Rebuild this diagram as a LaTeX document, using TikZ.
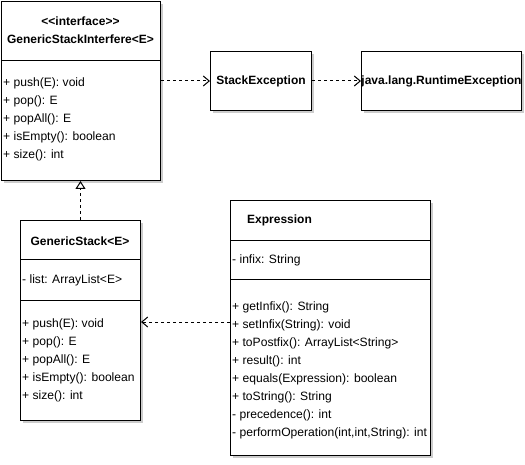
\documentclass[tikz,border=0pt]{standalone}
\usepackage{fontspec}
\setmainfont{Liberation Sans}
\usetikzlibrary{arrows.meta}
\tikzset{
  box/.style={draw=black, line width=1pt, fill=white, inner sep=0pt, anchor=north west},
  shadowbox/.style={fill=black!20, draw=none, inner sep=0pt, anchor=north west},
  txt/.style={inner sep=0pt, anchor=west, font=\fontsize{12.1}{14}\selectfont},
  ttl/.style={inner sep=0pt, font=\fontsize{12}{14}\selectfont\bfseries},
  divider/.style={line width=1pt},
  dep/.style={line width=1pt, dash pattern=on 3pt off 3pt, -{Straight Barb[length=6pt,width=10pt,line width=1pt]}},
  real/.style={line width=1pt, dash pattern=on 3pt off 3pt, -{Triangle[open,length=8pt,width=10pt,line width=1pt,fill=white]}}
}
\begin{document}
\begin{tikzpicture}[x=1pt,y=-1pt]
\useasboundingbox (0,0) rectangle (525,465);
% shadows
\node[shadowbox, minimum width=159pt, minimum height=179pt] at (4,4) {};
\node[shadowbox, minimum width=101pt, minimum height=59pt] at (213,54) {};
\node[shadowbox, minimum width=160pt, minimum height=59pt] at (364,54) {};
\node[shadowbox, minimum width=120pt, minimum height=200pt] at (23,223) {};
\node[shadowbox, minimum width=200pt, minimum height=255pt] at (233,203) {};
% interface
\node[box, minimum width=159pt, minimum height=179pt] (iface) at (1,1) {};
\draw[divider] (1,61) -- (160,61);
\node[ttl] (ifacest) at (80.5,21) {<\kern0pt<interface>\kern0pt>};
\node[ttl] (ifacename) at (80.5,39) {GenericStackInterfere<E>};
\node[txt] (i1) at (3,83) {+ push(E): void};
\node[txt] (i2) at (3,101) {+ pop(): E};
\node[txt] (i3) at (3,119) {+ popAll(): E};
\node[txt] (i4) at (3,137) {+ isEmpty(): boolean};
\node[txt] (i5) at (3,155) {+ size(): int};
% StackException
\node[box, minimum width=101pt, minimum height=59pt] (stackex) at (210,51) {};
\node[ttl] (stackexname) at (stackex.center) {StackException};
% RuntimeException
\node[box, minimum width=160pt, minimum height=59pt] (rte) at (361,51) {};
\node[ttl] (rtename) at (rte.center) {java.lang.RuntimeException};
% GenericStack
\node[box, minimum width=120pt, minimum height=200pt] (gs) at (20,220) {};
\draw[divider] (20,260) -- (140,260);
\draw[divider] (20,300) -- (140,300);
\node[ttl] (gsname) at (80,241) {GenericStack<E>};
\node[txt] (g0) at (22,280) {- list: ArrayList<E>};
\node[txt] (g1) at (22,324) {+ push(E): void};
\node[txt] (g2) at (22,342) {+ pop(): E};
\node[txt] (g3) at (22,360) {+ popAll(): E};
\node[txt] (g4) at (22,378) {+ isEmpty(): boolean};
\node[txt] (g5) at (22,396) {+ size(): int};
% Expression
\node[box, minimum width=200pt, minimum height=255pt] (expr) at (230,200) {};
\draw[divider] (230,241) -- (430,241);
\draw[divider] (230,280) -- (430,280);
\node[ttl, anchor=west] (exprname) at (247,220) {Expression};
\node[txt] (e0) at (232,260) {- infix: String};
\node[txt] (e1) at (232,307) {+ getInfix(): String};
\node[txt] (e2) at (232,325) {+ setInfix(String): void};
\node[txt] (e3) at (232,343) {+ toPostfix(): ArrayList<String>};
\node[txt] (e4) at (232,361) {+ result(): int};
\node[txt] (e5) at (232,379) {+ equals(Expression): boolean};
\node[txt] (e6) at (232,397) {+ toString(): String};
\node[txt] (e7) at (232,415) {- precedence(): int};
\node[txt] (e8) at (232,433) {- performOperation(int,int,String): int};
% connectors
\coordinate (exprdep) at (230,322);
\draw[dep] (stackex.west -| iface.east) -- (stackex.west);
\draw[dep] (stackex.east) -- (rte.west);
\draw[real] (gs.north) -- (gs.north |- iface.south);
\draw[dep] (exprdep) -- (exprdep -| gs.east);
\end{tikzpicture}
\end{document}
